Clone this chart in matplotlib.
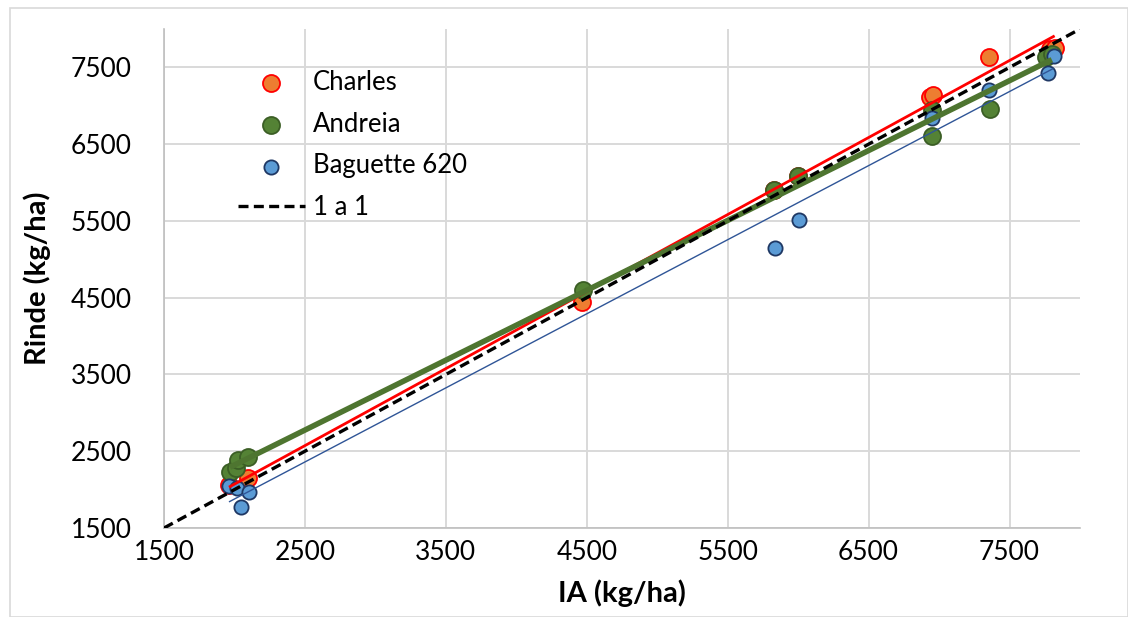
#!/usr/bin/env python3
"""Rinde vs IA scatter with linear trendlines and 1:1 reference line."""

import numpy as np
import matplotlib
matplotlib.use("Agg")
import matplotlib.pyplot as plt
from matplotlib.patches import Rectangle

plt.rcParams["font.family"] = ["Lato", "DejaVu Sans"]

# --- data (kg/ha) ---
charles_x = [1961, 2096, 4465, 5826, 5996, 6935, 6960, 7351, 7790, 7820]
charles_y = [2060, 2151, 4450, 5901, 6090, 7120, 7135, 7640, 7740, 7750]

andreia_x = [1968, 2011, 2025, 2096, 4472, 5826, 5996, 6947, 6947, 7358, 7762, 7800]
andreia_y = [2229, 2281, 2385, 2424, 4599, 5901, 6083, 6943, 6604, 6956, 7633, 7680]

baguette_x = [1961, 2018, 2103, 2046, 5833, 6004, 6947, 7351, 7770, 7812]
baguette_y = [2047, 2021, 1969, 1773, 5146, 5510, 6839, 7203, 7425, 7646]

one_to_one = [1500, 8000]

x_ticks = [1500, 2500, 3500, 4500, 5500, 6500, 7500]
y_ticks = [1500, 2500, 3500, 4500, 5500, 6500, 7500]

SERIES = [
    ("Charles", charles_x, charles_y, "#ED7D31", "#FF0000", 150, "#FF0000", 2.0),
    ("Andreia", andreia_x, andreia_y, "#548235", "#3B5E25", 150, "#4E7530", 4.0),
    ("Baguette 620", baguette_x, baguette_y, "#5B9BD5", "#1F3864", 105, "#2F5597", 1.0),
]


def main():
    fig = plt.figure(figsize=(11.28, 6.17), dpi=100)
    ax = fig.add_axes([164 / 1128, 1 - 528 / 617, (1080 - 164) / 1128, (528 - 29) / 617])

    # outer chart border
    fig.patches.append(Rectangle((10 / 1128, 0), 1 - 10 / 1128, 1 - 8 / 617,
                                 transform=fig.transFigure, fill=False,
                                 edgecolor="#D9D9D9", linewidth=1.2))

    handles = []
    for name, xs, ys, face, edge, size, lcol, lw in SERIES:
        h = ax.scatter(xs, ys, s=size, facecolor=face, edgecolor=edge,
                       linewidth=1.3, zorder=3, label=name)
        handles.append(h)

    # linear trendlines drawn over the markers, like Excel does
    for name, xs, ys, face, edge, size, lcol, lw in SERIES:
        xs = np.asarray(xs, float)
        ys = np.asarray(ys, float)
        m, b = np.polyfit(xs, ys, 1)
        xx = np.array([xs.min(), xs.max()])
        ax.plot(xx, m * xx + b, color=lcol, linewidth=lw, zorder=4,
                solid_capstyle="butt")

    line, = ax.plot(one_to_one, one_to_one, color="black", linestyle=(0, (3, 1.6)),
                    linewidth=2.4, zorder=5, label="1 a 1")
    handles.append(line)

    ax.set_xlim(1500, 8000)
    ax.set_ylim(1500, 8000)
    ax.set_xticks(x_ticks)
    ax.set_yticks(y_ticks)
    ax.grid(True, color="#D9D9D9", linewidth=1.4)
    ax.set_axisbelow(True)
    for side in ("top", "right"):
        ax.spines[side].set_visible(False)
    for side in ("left", "bottom"):
        ax.spines[side].set_color("#BFBFBF")
        ax.spines[side].set_linewidth(1.2)
    ax.tick_params(axis="both", length=0, labelsize=19, colors="#000000")
    ax.tick_params(axis="x", pad=9)
    ax.tick_params(axis="y", pad=23)

    ax.set_xlabel("IA (kg/ha)", fontsize=21, fontweight="bold", labelpad=10)
    ax.set_ylabel("Rinde (kg/ha)", fontsize=21, fontweight="bold", labelpad=14)

    fig.legend(handles=handles, loc="upper left",
               bbox_to_anchor=(238 / 1128, 1 - 70 / 617), frameon=False,
               fontsize=18.5, handlelength=2.6, handletextpad=0.3,
               labelspacing=0.65, borderpad=0, borderaxespad=0)

    fig.savefig("out.png", dpi=100)
    plt.close(fig)


if __name__ == "__main__":
    main()
